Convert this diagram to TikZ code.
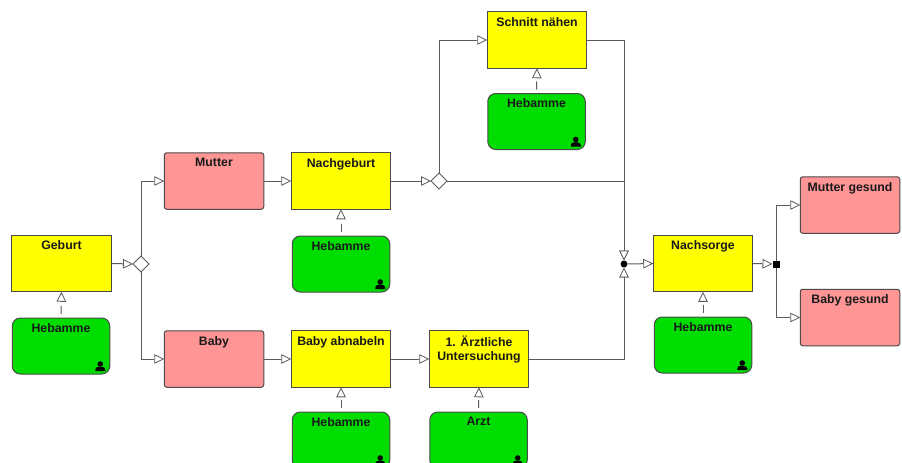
\documentclass[tikz,border=0pt]{standalone}
\usepackage{fontspec}
\setmainfont{Liberation Sans}
\usetikzlibrary{arrows.meta,shapes.geometric}
\definecolor{linegray}{HTML}{5A5A5A}
\definecolor{edgegray}{HTML}{4A4A4A}
\definecolor{taskyellow}{HTML}{FFFF00}
\definecolor{rolegreen}{HTML}{00DD00}
\definecolor{statepink}{HTML}{FF9595}
\tikzset{
  every node/.style={font=\fontsize{12.3}{14}\selectfont\bfseries},
  lbl/.style={anchor=north,yshift=-5.5pt,inner sep=0pt,outer sep=0pt,align=center,text=black!90},
  taskbox/.style={rectangle,draw=edgegray,line width=1pt,fill=taskyellow,minimum width=99.5pt,minimum height=56.5pt,inner sep=0pt,outer sep=0pt,label={[lbl]north:#1}},
  statebox/.style={rectangle,rounded corners=2.5pt,draw=edgegray,line width=1pt,fill=statepink,minimum width=99.5pt,minimum height=56.5pt,inner sep=0pt,outer sep=0pt,label={[lbl]north:#1}},
  rolebox/.style={rectangle,rounded corners=8pt,draw=edgegray,line width=1pt,fill=rolegreen,minimum width=97.5pt,minimum height=56pt,inner sep=0pt,outer sep=0pt,label={[lbl]north:#1}},
  xorgate/.style={diamond,aspect=1,draw=linegray,line width=0.8pt,fill=white,minimum width=16pt,minimum height=16pt,inner sep=0pt,outer sep=0pt},
  andcircle/.style={circle,fill=black,minimum size=7pt,inner sep=0pt,outer sep=0pt},
  andsquare/.style={rectangle,fill=black,minimum size=7pt,inner sep=0pt,outer sep=0pt},
  tip/.tip={Triangle[open,fill=white,length=10pt,width=9.5pt,line width=0.8pt]},
  conn/.style={draw=linegray,line width=1pt,-tip},
  resconn/.style={draw=linegray,line width=1pt,-tip,shorten <=4pt,dash pattern=on 8pt off 40pt},
  pics/person/.style={code={
    \fill[black] (0,-7) circle (2.8pt);
    \fill[black] (-5,0) -- (-5,-1.5) .. controls (-5,-3.5) and (-3,-4) .. (-1.5,-4.2) -- (1.5,-4.2) .. controls (3,-4) and (5,-3.5) .. (5,-1.5) -- (5,0) -- cycle;
  }}
}
\begin{document}
\begin{tikzpicture}[x=1pt,y=-1pt]
\useasboundingbox (0,0) rectangle (902,463);
\clip (0,0) rectangle (902,463);
% tasks
\node[taskbox=Geburt] (geburt) at (61.5,263.5) {};
\node[taskbox=Nachgeburt] (nachgeburt) at (341,181) {};
\node[taskbox=Baby abnabeln] (abnabeln) at (341,359) {};
\node[taskbox={1. Ärztliche\\Untersuchung}] (arzt) at (479,359) {};
\node[taskbox={Schnitt nähen}] (schnitt) at (537,40) {};
\node[taskbox=Nachsorge] (nachsorge) at (703,263.5) {};
% states
\node[statebox=Mutter] (mutter) at (214,181) {};
\node[statebox=Baby] (baby) at (214,359) {};
\node[statebox=Mutter gesund] (mgesund) at (850,205) {};
\node[statebox=Baby gesund] (bgesund) at (850,317.5) {};
% roles
\node[rolebox=Hebamme] (r1) at (61,346) {};
\node[rolebox=Hebamme] (r2) at (341,264) {};
\node[rolebox=Hebamme] (r3) at (341,440) {};
\node[rolebox=Arzt] (r4) at (478.5,440) {};
\node[rolebox=Hebamme] (r5) at (536.5,121.5) {};
\node[rolebox=Hebamme] (r6) at (703,345) {};
\foreach \r in {r1,r2,r3,r4,r5,r6} \pic at ([xshift=-9.5pt,yshift=3pt]\r.south east) {person};
% connectors
\draw[resconn] (r1.north) -- (geburt.south);
\draw[resconn] (r2.north) -- (nachgeburt.south);
\draw[resconn] (r3.north) -- (abnabeln.south);
\draw[resconn] (r4.north) -- (arzt.south);
\draw[resconn] (r5.north) -- (schnitt.south);
\draw[resconn] (r6.north) -- (nachsorge.south);
% gateways
\node[xorgate] (x1) at (141,264) {};
\node[xorgate] (x2) at (439,181) {};
\node[andcircle] (j) at (624,264) {};
\node[andsquare] (s) at (776,264) {};
\draw[conn] (geburt.east) -- (x1.west);
\draw[conn] (x1.north) |- (mutter.west);
\draw[conn] (x1.south) |- (baby.west);
\draw[conn] (mutter.east) -- (nachgeburt.west);
\draw[conn] (baby.east) -- (abnabeln.west);
\draw[conn] (abnabeln.east) -- (arzt.west);
\draw[conn] (nachgeburt.east) -- (x2.west);
\draw[conn] (x2.north) |- (schnitt.west);
\draw[conn] (schnitt.east) -| (j.north);
\draw[conn] (x2.east) -| (j.north);
\draw[conn] (arzt.east) -| (j.south);
\draw[conn] (j.east) -- (nachsorge.west);
\draw[conn] (nachsorge.east) -- (s.west);
\draw[conn] (s.north) |- (mgesund.west);
\draw[conn] (s.south) |- (bgesund.west);
\end{tikzpicture}
\end{document}
